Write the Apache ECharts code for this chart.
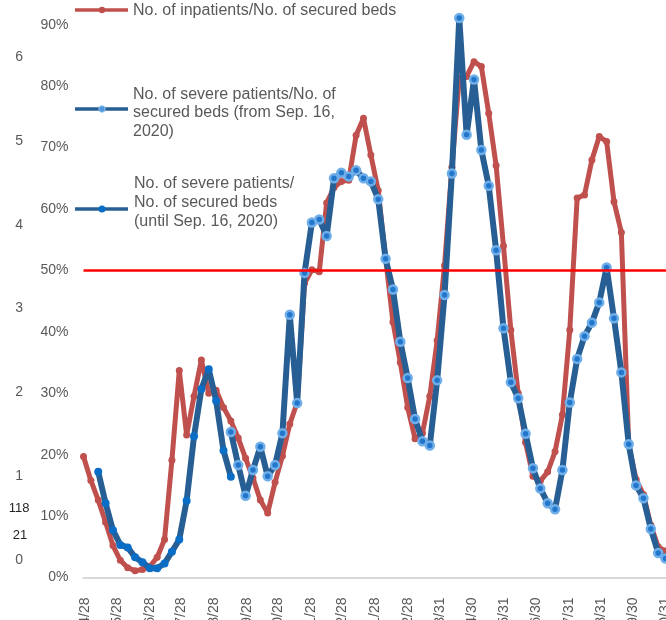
<!DOCTYPE html>
<html>
<head>
<meta charset="utf-8">
<script src="https://cdn.jsdelivr.net/npm/echarts@6/dist/echarts.min.js"></script>
<style>
  html, body { margin: 0; padding: 0; background: #ffffff; }
  #chart { width: 666px; height: 620px; }
</style>
</head>
<body>
<div id="chart"></div>
<script>
// ---------- DATA ----------
const weekDates = [
  '2020-04-26','2020-05-03','2020-05-10','2020-05-17','2020-05-24','2020-05-31','2020-06-07','2020-06-14',
  '2020-06-21','2020-06-28','2020-07-05','2020-07-12','2020-07-19','2020-07-26','2020-08-02','2020-08-09',
  '2020-08-16','2020-08-23','2020-08-30','2020-09-06','2020-09-13','2020-09-20','2020-09-27','2020-10-04',
  '2020-10-11','2020-10-18','2020-10-25','2020-11-01','2020-11-08','2020-11-15','2020-11-22','2020-11-29',
  '2020-12-06','2020-12-13','2020-12-20','2020-12-27','2021-01-03','2021-01-10','2021-01-17','2021-01-24',
  '2021-01-31','2021-02-07','2021-02-14','2021-02-21','2021-02-28','2021-03-07','2021-03-14','2021-03-21',
  '2021-03-28','2021-04-04','2021-04-11','2021-04-18','2021-04-25','2021-05-02','2021-05-09','2021-05-16',
  '2021-05-23','2021-05-30','2021-06-06','2021-06-13','2021-06-20','2021-06-27','2021-07-04','2021-07-11',
  '2021-07-18','2021-07-25','2021-08-01','2021-08-08','2021-08-15','2021-08-22','2021-08-29','2021-09-05',
  '2021-09-12','2021-09-19','2021-09-26','2021-10-03','2021-10-10','2021-10-17','2021-10-24','2021-10-31'
];

// No. of inpatients / No. of secured beds (%)
const inpatientValues = [
  19.7, 15.8, 12.6, 9.0, 5.2, 2.8, 1.6, 1.1, 1.3, 1.8, 3.3, 6.2, 19.1, 33.7, 23.2, 29.5, 35.4, 30.0, 30.5, 27.7,
  25.5, 22.7, 19.4, 16.2, 12.6, 10.5, 15.5, 19.8, 25.0, 28.5, 47.9, 50.1, 49.8, 61.0, 63.5, 64.5, 64.7, 72.0, 74.8, 68.8,
  63.0, 52.0, 41.6, 35.0, 27.7, 22.6, 23.5, 29.5, 38.6, 50.8, 66.8, 81.3, 81.6, 84.0, 83.2, 75.6, 67.1, 54.0, 40.3, 30.0,
  22.0, 16.5, 15.7, 17.2, 20.5, 26.5, 40.3, 61.8, 62.3, 68.0, 71.8, 71.0, 61.2, 56.2, 21.5, 16.0, 13.5, 8.5, 5.0, 4.3
];

// No. of severe patients / No. of secured beds (until Sep. 16, 2020) (%)
const severeOldDates = weekDates.slice(2, 21);
const severeOldValues = [
  17.2, 12.1, 7.7, 5.3, 4.9, 3.3, 2.5, 1.5, 1.5, 2.3, 4.2, 6.2, 12.5, 23.0, 30.7, 33.9, 28.8, 20.7, 16.4
];

// No. of severe patients / No. of secured beds (from Sep. 16, 2020) (%)
const severeNewDates = weekDates.slice(20);
const severeNewValues = [
  23.7, 18.3, 13.3, 17.5, 21.3, 16.5, 18.3, 23.5, 42.8, 28.4, 49.6, 57.8, 58.3, 55.6, 65.0, 65.9, 65.3, 66.3, 65.0, 64.5,
  61.6, 51.9, 46.9, 38.4, 32.5, 25.8, 22.2, 21.5, 32.1, 46.0, 65.8, 91.1, 72.1, 81.1, 69.6, 63.8, 53.3, 40.6, 31.8, 29.2,
  23.4, 17.8, 14.5, 12.1, 11.1, 17.5, 28.5, 35.6, 39.3, 41.5, 44.8, 50.5, 42.2, 33.4, 21.7, 15.0, 12.9, 7.9, 4.0, 3.1
];

const thresholdValue = 50;

const xTickDates = [
  '2020-04-28','2020-05-28','2020-06-28','2020-07-28','2020-08-28','2020-09-28','2020-10-28','2020-11-28',
  '2020-12-28','2021-01-28','2021-02-28','2021-03-31','2021-04-30','2021-05-31','2021-06-30','2021-07-31',
  '2021-08-31','2021-09-30','2021-10-31'
];
const xAxisMinDate = '2020-04-26';
const xAxisMaxDate = '2021-11-14';

const leftAxisLabels = ['118', '21'];

const legendNames = [
  'No. of inpatients/No. of secured beds',
  'No. of severe patients/No. of\nsecured beds (from Sep. 16,\n2020)',
  'No. of severe patients/\nNo. of secured beds\n(until Sep. 16, 2020)'
];

// ---------- HELPERS ----------
function ts(s) {
  const p = s.split('-').map(Number);
  return Date.UTC(p[0], p[1] - 1, p[2]);
}
function pairs(dates, values) {
  return dates.map((d, i) => [ts(d), values[i]]);
}
function fmtDate(v) {
  const d = new Date(v);
  return d.getUTCFullYear() + '/' + (d.getUTCMonth() + 1) + '/' + d.getUTCDate();
}

const FONT = "'Liberation Sans', Arial, sans-serif";
const RED = '#C0504D';
const BLUE = '#275F94';
const GREY = '#595959';

const chart = echarts.init(document.getElementById('chart'), null, { renderer: 'canvas' });

const option = {
  animation: false,
  backgroundColor: '#ffffff',
  textStyle: { fontFamily: FONT },
  grid: [
    { left: 83.5, width: 596.8, top: -36.6, height: 614.1, containLabel: false, outerBoundsMode: 'none' },
    { left: 25, width: 1, top: 57, height: 503, containLabel: false, outerBoundsMode: 'none' }
  ],
  xAxis: [
    {
      type: 'value',
      gridIndex: 0,
      min: ts(xAxisMinDate),
      max: ts(xAxisMaxDate),
      axisLine: { show: true, onZero: false, lineStyle: { color: '#D9D9D9', width: 2 } },
      axisTick: { show: false },
      splitLine: { show: false },
      axisLabel: {
        customValues: xTickDates.map(ts),
        rotate: 90,
        margin: 20,
        color: GREY,
        fontSize: 14,
        fontFamily: FONT,
        hideOverlap: false,
        formatter: fmtDate
      }
    },
    { type: 'value', gridIndex: 1, show: false, min: 0, max: 1 }
  ],
  yAxis: [
    {
      type: 'value',
      gridIndex: 0,
      min: 0,
      max: 100,
      interval: 10,
      axisLine: { show: false },
      axisTick: { show: false },
      splitLine: { show: false },
      axisLabel: { formatter: '{value}%', color: GREY, fontSize: 14, margin: 15, fontFamily: FONT }
    },
    {
      type: 'value',
      gridIndex: 1,
      min: 0,
      max: 6,
      interval: 1,
      axisLine: { show: false },
      axisTick: { show: false },
      splitLine: { show: false },
      axisLabel: { color: GREY, fontSize: 14, margin: 2, fontFamily: FONT }
    }
  ],
  series: [
    {
      name: legendNames[0],
      type: 'line',
      xAxisIndex: 0, yAxisIndex: 0,
      data: pairs(weekDates, inpatientValues),
      symbol: 'circle',
      symbolSize: 7,
      showAllSymbol: true,
      lineStyle: { color: RED, width: 5, join: 'round', cap: 'round' },
      itemStyle: { color: RED },
      z: 2
    },
    {
      name: legendNames[2],
      type: 'line',
      xAxisIndex: 0, yAxisIndex: 0,
      data: pairs(severeOldDates, severeOldValues),
      symbol: 'circle',
      symbolSize: 8,
      showAllSymbol: true,
      lineStyle: { color: BLUE, width: 6, join: 'round', cap: 'round' },
      itemStyle: { color: '#0B6EC6' },
      z: 3
    },
    {
      name: legendNames[1],
      type: 'line',
      xAxisIndex: 0, yAxisIndex: 0,
      data: pairs(severeNewDates, severeNewValues),
      symbol: 'circle',
      symbolSize: 8,
      showAllSymbol: true,
      lineStyle: { color: BLUE, width: 6, join: 'round', cap: 'round' },
      itemStyle: { color: '#2277CC', borderColor: '#6FAEE8', borderWidth: 2.5 },
      z: 4
    },
    {
      name: 'threshold',
      type: 'line',
      xAxisIndex: 0, yAxisIndex: 0,
      data: [],
      z: 10,
      markLine: {
        silent: true,
        symbol: ['none', 'none'],
        label: { show: false },
        lineStyle: { color: '#FF0000', width: 2.5, type: 'solid' },
        data: [{ yAxis: thresholdValue }]
      }
    }
  ],
  graphic: [
    // legend item 1
    { type: 'line', shape: { x1: 75, y1: 10, x2: 128, y2: 10 }, style: { stroke: RED, lineWidth: 3.5 } },
    { type: 'circle', shape: { cx: 102, cy: 10, r: 3.2 }, style: { fill: RED } },
    { type: 'text', left: 133, top: 3, style: { text: legendNames[0], fill: GREY, font: '16px ' + FONT } },
    // legend item 2
    { type: 'line', shape: { x1: 75, y1: 109, x2: 128, y2: 109 }, style: { stroke: BLUE, lineWidth: 3.5 } },
    { type: 'circle', shape: { cx: 102, cy: 109, r: 3.2 }, style: { fill: '#4F97DC', stroke: '#8BC0EE', lineWidth: 1 } },
    { type: 'text', left: 133, top: 85, style: { text: legendNames[1], fill: GREY, font: '16px ' + FONT, lineHeight: 18.5 } },
    // legend item 3
    { type: 'line', shape: { x1: 75, y1: 209, x2: 128, y2: 209 }, style: { stroke: BLUE, lineWidth: 3.5 } },
    { type: 'circle', shape: { cx: 102, cy: 209, r: 3.5 }, style: { fill: '#0B6EC6' } },
    { type: 'text', left: 134, top: 174, style: { text: legendNames[2], fill: GREY, font: '16px ' + FONT, lineHeight: 19 } },
    // stray labels from neighbouring chart
    { type: 'text', x: 19, y: 508, style: { text: leftAxisLabels[0], fill: '#262626', font: '13px ' + FONT, textAlign: 'center', textVerticalAlign: 'middle' } },
    { type: 'text', x: 20, y: 535, style: { text: leftAxisLabels[1], fill: '#262626', font: '13px ' + FONT, textAlign: 'center', textVerticalAlign: 'middle' } }
  ]
};

chart.setOption(option);
</script>
</body>
</html>
